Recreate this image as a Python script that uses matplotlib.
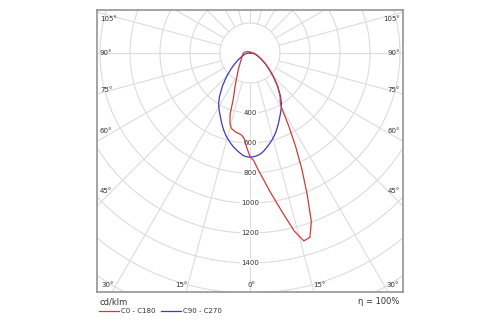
import numpy as np
import matplotlib
matplotlib.use("Agg")
import matplotlib.pyplot as plt

# ---------------- data (cd/klm) ----------------
gamma = [0, 2, 4, 6, 8, 10, 12, 14, 16, 18, 20, 22, 24, 26, 28, 30, 32, 35,
         40, 45, 50, 55, 60, 65, 70, 75, 80, 85, 90, 100, 120, 150, 180]
c0 = [690, 718, 780, 845, 925, 1010, 1110, 1225, 1303, 1292, 1196, 1018, 853,
      695, 548, 418, 380, 350, 285, 218, 165, 125, 92, 70, 55, 45, 35, 28, 22,
      15, 8, 5, 5]
c180 = [690, 630, 570, 549, 542, 536, 527, 517, 485, 430, 325, 280, 245, 215,
        190, 169, 155, 137, 110, 92, 80, 70, 64, 59, 55, 52, 49, 46, 43, 35,
        18, 8, 5]
c90 = [695, 692, 686, 676, 660, 640, 620, 600, 579, 556, 531, 506, 481, 459,
       438, 418, 395, 355, 285, 218, 165, 125, 92, 68, 50, 38, 27, 18, 10, 4,
       0, 0, 0]
c270 = [695, 692, 684, 668, 652, 636, 616, 596, 576, 553, 529, 504, 479, 457,
        437, 416, 394, 355, 285, 220, 165, 123, 90, 66, 49, 37, 27, 18, 10, 4,
        0, 0, 0]
radial_ticks = [400, 600, 800, 1000, 1200, 1400]
series_labels = ["C0 - C180", "C90 - C270"]
unit_label = "cd/klm"
eta_label = "η = 100%"

RED = "#cf3a3a"
BLUE = "#3a3ac4"
GRID = "#dcdcdc"
TXT = "#333333"

# ---------------- layout ----------------
W, H = 500, 325
fig = plt.figure(figsize=(W / 100, H / 100), dpi=100)
plt.rcParams["font.family"] = ["DejaVu Sans"]

L, R, T, B = 97, 403, 10, 292          # frame in pixels
CX, CY = 250, 53                       # polar origin in pixels
S = 0.15                               # pixels per cd

ax = fig.add_axes([L / W, 1 - B / H, (R - L) / W, (B - T) / H])
ax.set_xlim((L - CX) / S, (R - CX) / S)
ax.set_ylim((CY - B) / S, (CY - T) / S)
ax.set_xticks([])
ax.set_yticks([])
for sp in ax.spines.values():
    sp.set_color("#8c8c8c")
    sp.set_linewidth(1.1)


def px(xp, yp):
    return (xp - CX) / S, (CY - yp) / S


# grid circles
t = np.linspace(0, 2 * np.pi, 721)
for r in range(200, 2200, 200):
    ax.plot(r * np.cos(t), r * np.sin(t), color=GRID, lw=0.8, zorder=1)
# radial spokes every 15 deg
for a in range(0, 360, 15):
    ar = np.radians(a)
    ax.plot([200 * np.sin(ar), 2400 * np.sin(ar)],
            [-200 * np.cos(ar), -2400 * np.cos(ar)],
            color=GRID, lw=0.8, zorder=1)

# radial labels
for r in radial_ticks:
    ax.text(0, -r, str(r), ha="center", va="center", fontsize=5,
            color=TXT, zorder=3,
            bbox=dict(facecolor="white", edgecolor="none", pad=0.6))

# angle labels
side = {105: 19, 90: 53, 75: 90, 60: 131, 45: 191}
for a, yp in side.items():
    ax.text(*px(100, yp), f"{a}°", ha="left", va="center", fontsize=5,
            color=TXT, zorder=3)
    ax.text(*px(400, yp), f"{a}°", ha="right", va="center", fontsize=5,
            color=TXT, zorder=3)
ax.text(*px(101, 285), "30°", ha="left", va="center", fontsize=5, color=TXT)
ax.text(*px(399, 285), "30°", ha="right", va="center", fontsize=5, color=TXT)
ax.text(*px(181, 285), "15°", ha="center", va="center", fontsize=5, color=TXT)
ax.text(*px(319, 285), "15°", ha="center", va="center", fontsize=5, color=TXT)
ax.text(*px(251, 285), "0°", ha="center", va="center", fontsize=5, color=TXT)

# curves
g = np.radians(np.array(gamma, dtype=float))


def curve(right, left):
    right = np.asarray(right, float)
    left = np.asarray(left, float)
    xl = -left[::-1] * np.sin(g[::-1])
    yl = -left[::-1] * np.cos(g[::-1])
    xr = right * np.sin(g)
    yr = -right * np.cos(g)
    return np.concatenate([xl, xr]), np.concatenate([yl, yr])


xb, yb = curve(c90, c270)
ax.plot(xb, yb, color=BLUE, lw=0.9, zorder=4)
xr_, yr_ = curve(c0, c180)
ax.plot(xr_, yr_, color=RED, lw=0.9, zorder=5)

# texts below frame
fig.text(99 / W, 1 - 302 / H, unit_label, fontsize=6, color=TXT,
         ha="left", va="center")
fig.text(399 / W, 1 - 301 / H, eta_label, fontsize=6, color=TXT,
         ha="right", va="center")
# legend
ly = 1 - 311 / H
fig.add_artist(plt.Line2D([99 / W, 119 / W], [ly, ly], color=RED, lw=0.9))
fig.text(121 / W, ly, series_labels[0], fontsize=5, color=TXT,
         ha="left", va="center")
fig.add_artist(plt.Line2D([161 / W, 181 / W], [ly, ly], color=BLUE, lw=0.9))
fig.text(183 / W, ly, series_labels[1], fontsize=5, color=TXT,
         ha="left", va="center")

fig.savefig("out.png", dpi=100)
